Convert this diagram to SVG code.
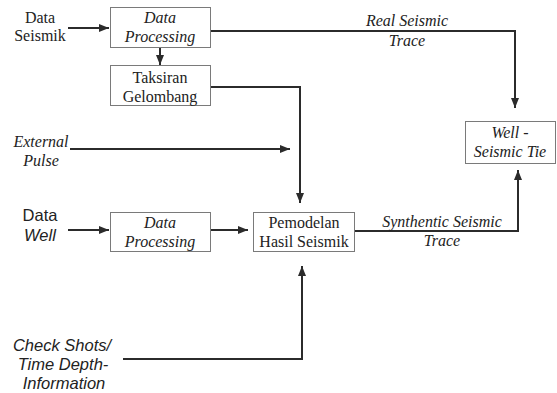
<svg xmlns="http://www.w3.org/2000/svg" width="557" height="393" viewBox="0 0 557 393">
<defs>
<marker id="ah" markerWidth="10" markerHeight="8" refX="10" refY="4" orient="auto" markerUnits="userSpaceOnUse">
<path d="M0,0 L10,4 L0,8 Z" fill="#2b2b2b"/>
</marker>
<style>
.box{fill:#fff;stroke:#7a7a7a;stroke-width:1}
.ser{font-family:"Liberation Serif","Times New Roman",serif;font-size:16px;fill:#222;text-anchor:middle}
.it{font-style:italic}
.ari{font-family:"Liberation Sans",Arial,sans-serif;font-size:16.5px;fill:#222;text-anchor:middle}
.ln{fill:none;stroke:#2b2b2b;stroke-width:2}
.arr{marker-end:url(#ah)}
</style>
</defs>
<rect width="557" height="393" fill="#fff"/>
<g id="connectors">
<path class="ln arr" d="M68,28 H109"/>
<path class="ln arr" d="M160,48 V65"/>
<path class="ln arr" d="M211,31 H515 V108"/>
<path class="ln arr" d="M211,87 H300 V203"/>
<path class="ln arr" d="M70,149 H290"/>
<path class="ln arr" d="M68,230 H109"/>
<path class="ln arr" d="M211,230 H248"/>
<path class="ln arr" d="M355,231 H518 V170"/>
<path class="ln arr" d="M123,359 H302 V266"/>
</g>
<g id="data-seismik">
<text class="ser" x="40" y="23">Data</text>
<text class="ser" x="40" y="41">Seismik</text>
</g>
<g id="data-processing-1">
<rect class="box" x="110.5" y="7.5" width="100" height="40"/>
<text class="ser it" x="160" y="23">Data</text>
<text class="ser it" x="160" y="41.5">Processing</text>
</g>
<g id="taksiran">
<rect class="box" x="110.5" y="65.5" width="100" height="40"/>
<text class="ser" x="160" y="83">Taksiran</text>
<text class="ser" x="160" y="101.5">Gelombang</text>
</g>
<g id="real-seismic-label">
<text class="ser it" x="407" y="26">Real Seismic</text>
<text class="ser it" x="407" y="46">Trace</text>
</g>
<g id="well-seismic-tie">
<rect class="box" x="465.5" y="121.5" width="90" height="42"/>
<text class="ser it" x="510" y="138">Well -</text>
<text class="ser it" x="510" y="156.5">Seismic Tie</text>
</g>
<g id="external-pulse">
<text class="ser it" x="41" y="147">External</text>
<text class="ser it" x="41" y="166">Pulse</text>
</g>
<g id="data-well">
<text class="ari" x="40" y="221">Data</text>
<text class="ari it" x="40" y="241">Well</text>
</g>
<g id="data-processing-2">
<rect class="box" x="110.5" y="212.5" width="100" height="39"/>
<text class="ser it" x="160" y="228">Data</text>
<text class="ser it" x="160" y="246.5">Processing</text>
</g>
<g id="pemodelan">
<rect class="box" x="253.5" y="212.5" width="101" height="39"/>
<text class="ser" x="304" y="228">Pemodelan</text>
<text class="ser" x="304" y="247">Hasil Seismik</text>
</g>
<g id="synthetic-label">
<text class="ser it" x="442" y="227">Synthentic Seismic</text>
<text class="ser it" x="442" y="246">Trace</text>
</g>
<g id="check-shots">
<text class="ari it" x="62" y="351">Check Shots/</text>
<text class="ari it" x="63" y="370">Time Depth-</text>
<text class="ari it" x="64" y="389">Information</text>
</g>
</svg>
